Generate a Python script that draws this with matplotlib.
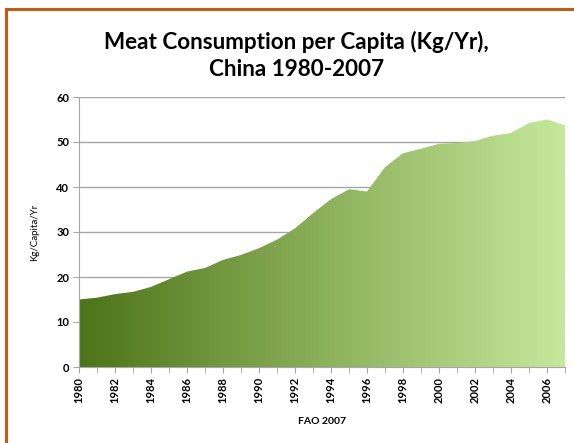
import numpy as np
import matplotlib.pyplot as plt
from matplotlib.patches import Rectangle
from matplotlib.colors import LinearSegmentedColormap

# FAO per-capita meat consumption, China (kg/yr)
years = list(range(1980, 2008))
meat = [15.0, 15.4, 16.2, 16.7, 17.8, 19.5, 21.2, 22.0, 23.8, 24.9,
        26.4, 28.3, 30.8, 34.2, 37.3, 39.5, 39.0, 44.4, 47.5, 48.5,
        49.6, 49.8, 50.2, 51.4, 52.0, 54.2, 55.0, 53.7]
tick_years = list(range(1980, 2007, 2))

plt.rcParams['font.family'] = ['Lato', 'DejaVu Sans']

fig = plt.figure(figsize=(5.74, 4.43), dpi=100)
ax = fig.add_axes([79 / 574, 1 - 367 / 443, 486 / 574, 270 / 443])

# orange frame (right/bottom edges run off the picture)
fig.patches.append(Rectangle((6 / 574, -0.05), 1.1, 1 - 9 / 443 + 0.05,
                             transform=fig.transFigure, fill=False,
                             edgecolor='#C55A11', linewidth=2.2))

# horizontal gradient clipped to the area
cmap = LinearSegmentedColormap.from_list('greens', ['#4E7419', '#8BB05A', '#C6E89B'])
grad = np.linspace(0, 1, 256).reshape(1, -1)
poly = ax.fill_between(years, meat, 0, color='none', linewidth=0)
img = ax.imshow(grad, cmap=cmap, aspect='auto', extent=[1980, 2007, 0, 60],
                zorder=2, interpolation='bilinear')
img.set_clip_path(poly.get_paths()[0], transform=ax.transData)

ax.set_xlim(1980, 2007)
ax.set_ylim(0, 60)
ax.set_yticks(range(0, 61, 10))
ax.set_xticks(tick_years)
ax.set_xticks(years, minor=True)
ax.set_xticklabels([str(y) for y in tick_years], rotation=90, fontsize=8,
                   fontweight='bold')
for lab in ax.get_yticklabels():
    lab.set_fontsize(8)
    lab.set_fontweight('bold')

ax.grid(axis='y', color='#A6A6A6', linewidth=1)
ax.set_axisbelow(True)
for side in ['top', 'right']:
    ax.spines[side].set_visible(False)
ax.spines['left'].set_color('#A6A6A6')
ax.spines['bottom'].set_color('#A6A6A6')
ax.spines['bottom'].set_zorder(3)
ax.tick_params(axis='both', which='both', color='#A6A6A6', length=4, pad=3)

ax.set_ylabel('Kg/Capita/Yr', fontsize=7, labelpad=12)
ax.set_xlabel('FAO 2007', fontsize=7.5, fontweight='bold', labelpad=10)

fig.text(0.516, 0.905, 'Meat Consumption per Capita (Kg/Yr),', ha='center',
         va='center', fontsize=16.2, fontweight='bold')
fig.text(0.516, 0.842, 'China 1980-2007', ha='center', va='center',
         fontsize=16.2, fontweight='bold')

fig.savefig('out.png', dpi=100)
